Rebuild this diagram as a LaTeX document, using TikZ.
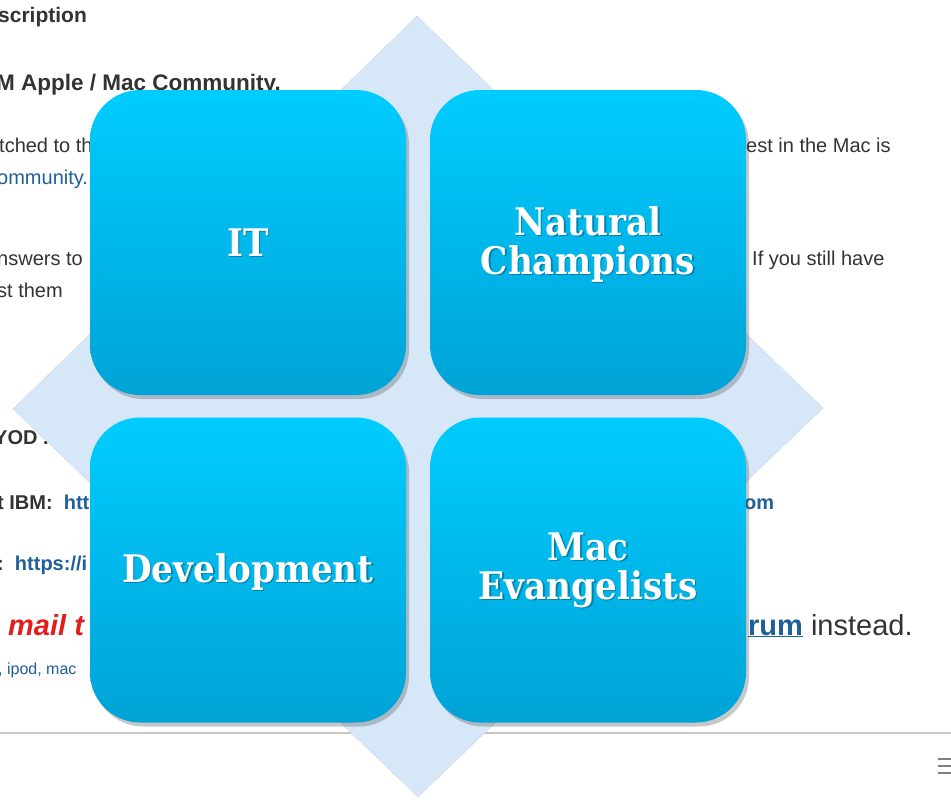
\documentclass[tikz,border=0pt]{standalone}
\usepackage{fontspec}
\setmainfont{Liberation Sans}
\newfontfamily\labelfont{DejaVu Serif Condensed}
\usetikzlibrary{shadows}
\definecolor{bgtext}{HTML}{333333}
\definecolor{bglink}{HTML}{1F5F9A}
\definecolor{bgred}{HTML}{E01E1E}
\definecolor{diafill}{HTML}{D6E8F8}
\definecolor{boxtop}{HTML}{00CCFF}
\definecolor{boxbot}{HTML}{00A3D6}
\definecolor{txtshadow}{HTML}{0B4E6E}
\begin{document}
\begin{tikzpicture}[x=1pt,y=-1pt,
  bg/.style={anchor=base west,inner sep=0pt,text=bgtext,font=\fontsize{20}{22}\selectfont},
  bgb/.style={bg,font=\bfseries\fontsize{20}{22}\selectfont},
  qbox/.style={rectangle,rounded corners=50pt,minimum width=316pt,minimum height=305pt,
    inner sep=0pt,top color=boxtop,bottom color=boxbot,draw=none,
    drop shadow={shadow xshift=3pt,shadow yshift=-4pt,opacity=.3,fill=black!70}},
  lbl/.style={text=white,align=center,inner sep=0pt,
    font=\labelfont\bfseries\fontsize{38}{39}\selectfont},
  lblsh/.style={lbl,text=txtshadow,opacity=.5}
]
\useasboundingbox (0,0) rectangle (951,801);
\fill[white] (0,0) rectangle (951,801);

% background screenshot text
\node[bgb,font=\bfseries\fontsize{21}{23}\selectfont] (s1) at (-2,22) {scription};
\node[bgb,font=\bfseries\fontsize{22.5}{24}\selectfont] (s2) at (-4,90) {M Apple / Mac Community.};
\node[bg] (s3) at (-1,152) {tched to the};
\node[bg] (s3r) at (746,152) {est in the Mac is};
\node[bg,text=bglink] (s4) at (-3,184) {ommunity.};
\node[bg] (s5) at (-3,265) {nswers to};
\node[bg] (s5r) at (752,265) {If you still have};
\node[bg] (s6) at (-3,297) {st them};
\node[bgb] (s7) at (-6,444) {YOD .};
\node[bgb] (s8) at (-3,509) {t IBM:\ \ \textcolor{bglink}{htt}};
\node[bgb,text=bglink] (s8r) at (744,509) {om};
\node[bgb] (s9) at (-3,570) {:\ \ \textcolor{bglink}{https://i}};
\node[bgb,text=bgred,font=\bfseries\itshape\fontsize{29}{31}\selectfont] (s10) at (8,635) {mail t};
\node[bg,font=\fontsize{29}{31}\selectfont] (s10r) at (748,635) {\textcolor{bglink}{\bfseries\underline{rum}} instead.};
\node[bg,text=bglink,font=\fontsize{16}{18}\selectfont] (s11) at (-2,674) {, ipod, mac};
\coordinate (hl1) at (0,733);
\coordinate (hl2) at (951,733);
\draw[black!22,line width=1.5pt] (hl1) -- (hl2);
\coordinate (hb1) at (938,759);
\coordinate (hb2) at (952,759);
\draw[black!50,line width=2.2pt] (hb1) -- (hb2)
  ([yshift=-7pt]hb1) -- ([yshift=-7pt]hb2)
  ([yshift=-14pt]hb1) -- ([yshift=-14pt]hb2);

% diamond
\coordinate (dt) at (417,16);
\coordinate (dr) at (823,408);
\coordinate (db) at (418,797);
\coordinate (dl) at (13,409);
\fill[black!35,shift={(2,3)}] (dt) -- (dr) -- (db) -- (dl) -- cycle;
\fill[diafill] (dt) -- (dr) -- (db) -- (dl) -- cycle;

% boxes
\node[qbox] (it) at (248,242.5) {};
\node[qbox] (nc) at (588,242.5) {};
\node[qbox] (dev) at (248,570) {};
\node[qbox] (mac) at (588,570) {};

% labels
\node[lblsh] (itsh) at ([shift={(1.5,1.5)}]it.center) {IT};
\node[lbl] (itl) at (it.center) {IT};
\node[lblsh] (ncsh) at ([shift={(1.5,3.5)}]nc.center) {Natural\\Champions};
\node[lbl] (ncl) at ([yshift=-2pt]nc.center) {Natural\\Champions};
\node[lblsh] (devsh) at ([shift={(1.5,3.5)}]dev.center) {Development};
\node[lbl] (devl) at ([yshift=-2pt]dev.center) {Development};
\node[lblsh] (macsh) at ([shift={(1.5,1.5)}]mac.center) {Mac\\Evangelists};
\node[lbl] (macl) at (mac.center) {Mac\\Evangelists};
\end{tikzpicture}
\end{document}
